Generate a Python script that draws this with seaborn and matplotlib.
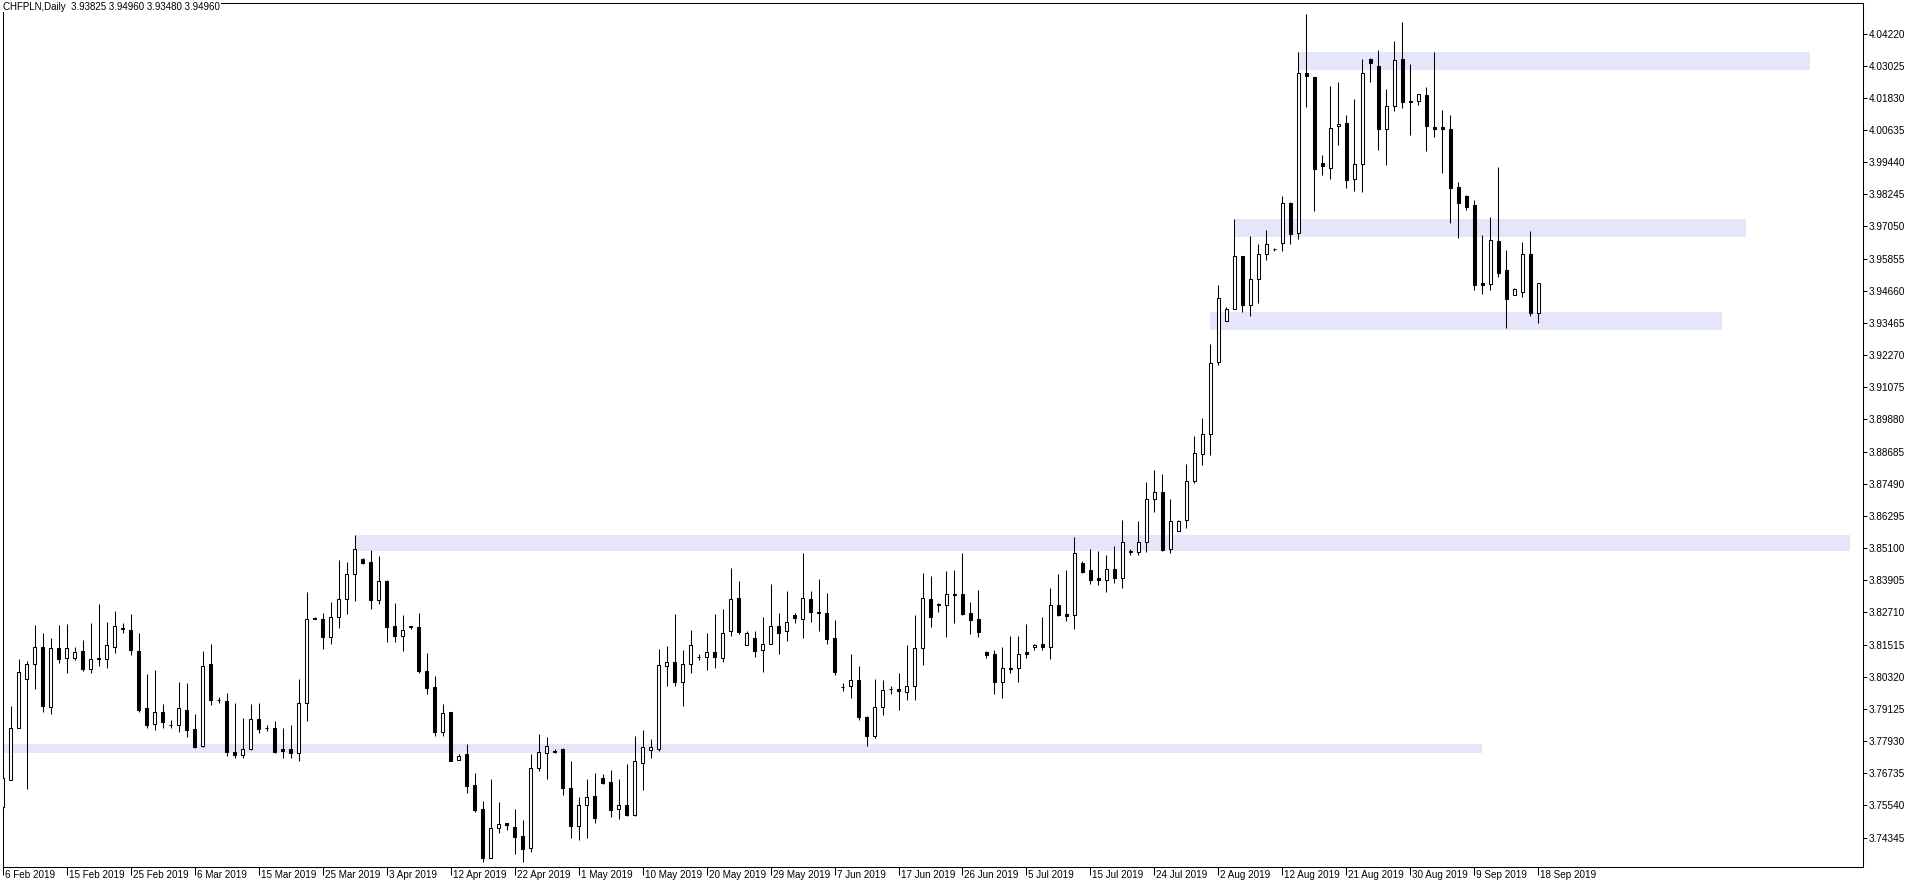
import numpy as np
import pandas as pd
import matplotlib
matplotlib.use("Agg")
import matplotlib.pyplot as plt
import matplotlib.transforms as mtransforms
from matplotlib import font_manager as fm
import seaborn as sns

# ---------------- data ----------------
symbol_title = "CHFPLN,Daily  3.93825 3.94960 3.93480 3.94960"
first_date = "2019-02-06"
last_date = "2019-09-18"

opens = [3.7546, 3.7650, 3.7843, 3.8025, 3.8081, 3.8144, 3.7920, 3.8137, 3.8102, 3.8102,
         3.8127, 3.8061, 3.8099, 3.8098, 3.8144, 3.8212, 3.8204, 3.8127, 3.7914, 3.7857,
         3.7899, 3.7853, 3.7853, 3.7910, 3.7836, 3.7775, 3.8078, 3.7946, 3.7940, 3.7754,
         3.7742, 3.7762, 3.7873, 3.7843, 3.7843, 3.7762, 3.7762, 3.7747, 3.7933, 3.8251,
         3.8248, 3.8180, 3.8252, 3.8319, 3.8412, 3.8471, 3.8458, 3.8318, 3.8386, 3.8219,
         3.8184, 3.8215, 3.8215, 3.8055, 3.7992, 3.7827, 3.7899, 3.7724, 3.7743, 3.7628,
         3.7540, 3.7359, 3.7468, 3.7487, 3.7473, 3.7439, 3.7394, 3.7691, 3.7747, 3.7755,
         3.7765, 3.7618, 3.7478, 3.7557, 3.7588, 3.7655, 3.7640, 3.7539, 3.7557, 3.7517,
         3.7713, 3.7758, 3.7762, 3.8070, 3.8085, 3.8013, 3.8081, 3.8105, 3.8107, 3.8122,
         3.8103, 3.8200, 3.8323, 3.8148, 3.8174, 3.8130, 3.8155, 3.8222, 3.8200, 3.8260,
         3.8245, 3.8319, 3.8272, 3.8267, 3.8174, 3.7993, 3.7996, 3.8018, 3.7884, 3.7812,
         3.7918, 3.7986, 3.7988, 3.7977, 3.7999, 3.8137, 3.8319, 3.8299, 3.8297, 3.8341,
         3.8338, 3.8267, 3.8245, 3.8122, 3.8115, 3.8014, 3.8066, 3.8063, 3.8122, 3.8141,
         3.8152, 3.8141, 3.8300, 3.8264, 3.8260, 3.8453, 3.8427, 3.8398, 3.8390, 3.8431,
         3.8397, 3.8496, 3.8494, 3.8531, 3.8694, 3.8717, 3.8505, 3.8575, 3.8616, 3.8761,
         3.8858, 3.8932, 3.9200, 3.9352, 3.9400, 3.9597, 3.9415, 3.9508, 3.9601, 3.9622,
         3.9642, 3.9794, 3.9679, 4.0274, 4.0260, 3.9940, 3.9924, 4.0077, 4.0088, 3.9883,
         3.9936, 4.0329, 4.0300, 4.0066, 4.0151, 4.0326, 4.0166, 4.0173, 4.0192, 4.0073,
         4.0073, 4.0066, 3.9850, 3.9820, 3.9783, 3.9494, 3.9492, 3.9652, 3.9543, 3.9449,
         3.9462, 3.9601, 3.93825]

highs = [3.7685, 3.7923, 3.8096, 3.8091, 3.8224, 3.8195, 3.8174, 3.8224, 3.8227, 3.8144,
         3.8168, 3.8232, 3.8303, 3.8235, 3.8276, 3.8230, 3.8264, 3.8194, 3.8041, 3.8057,
         3.7930, 3.7871, 3.8012, 3.8008, 3.7892, 3.8127, 3.8153, 3.7955, 3.7970, 3.7933,
         3.7877, 3.7929, 3.7936, 3.7852, 3.7866, 3.7843, 3.7851, 3.8023, 3.8345, 3.8253,
         3.8267, 3.8309, 3.8465, 3.8458, 3.8558, 3.8472, 3.8502, 3.8480, 3.8393, 3.8305,
         3.8260, 3.8222, 3.8268, 3.8119, 3.8034, 3.7930, 3.7900, 3.7743, 3.7781, 3.7674,
         3.7570, 3.7651, 3.7566, 3.7487, 3.7540, 3.7499, 3.7744, 3.7819, 3.7807, 3.7762,
         3.7768, 3.7718, 3.7584, 3.7651, 3.7674, 3.7670, 3.7685, 3.7651, 3.7707, 3.7811,
         3.7833, 3.7800, 3.8134, 3.8145, 3.8264, 3.8130, 3.8205, 3.8115, 3.8194, 3.8264,
         3.8283, 3.8435, 3.8387, 3.8202, 3.8201, 3.8252, 3.8376, 3.8268, 3.8350, 3.8267,
         3.8490, 3.8350, 3.8395, 3.8342, 3.8242, 3.8007, 3.8115, 3.8070, 3.7885, 3.8023,
         3.8019, 3.7997, 3.8044, 3.8148, 3.8262, 3.8419, 3.8408, 3.8304, 3.8423, 3.8427,
         3.8490, 3.8308, 3.8356, 3.8127, 3.8133, 3.8142, 3.8185, 3.8183, 3.8227, 3.8155,
         3.8252, 3.8361, 3.8413, 3.8428, 3.8551, 3.8461, 3.8508, 3.8500, 3.8483, 3.8517,
         3.8613, 3.8505, 3.8610, 3.8754, 3.8800, 3.8784, 3.8692, 3.8616, 3.8821, 3.8925,
         3.8992, 3.9267, 3.9486, 3.9404, 3.9731, 3.9597, 3.9669, 3.9638, 3.9690, 3.9624,
         3.9818, 3.9795, 4.0352, 4.0494, 4.0261, 3.9970, 4.0226, 4.0241, 4.0118, 4.0177,
         4.0326, 4.0330, 4.0359, 4.0214, 4.0393, 4.0463, 4.0308, 4.0199, 4.0225, 4.0352,
         4.0136, 4.0118, 3.9870, 3.9821, 3.9802, 3.9672, 3.9739, 3.9927, 3.9618, 3.9478,
         3.9649, 3.9689, 3.94960]

lows = [3.7529, 3.7648, 3.7840, 3.7615, 3.7987, 3.7901, 3.7894, 3.8083, 3.8046, 3.8095,
        3.8054, 3.8046, 3.8072, 3.8065, 3.8121, 3.8193, 3.8113, 3.7901, 3.7842, 3.7834,
        3.7842, 3.7842, 3.7827, 3.7808, 3.7768, 3.7771, 3.7927, 3.7935, 3.7738, 3.7730,
        3.7730, 3.7759, 3.7823, 3.7832, 3.7749, 3.7730, 3.7730, 3.7719, 3.7868, 3.8245,
        3.8135, 3.8154, 3.8213, 3.8266, 3.8314, 3.8449, 3.8284, 3.8303, 3.8162, 3.8162,
        3.8128, 3.8210, 3.8046, 3.7968, 3.7812, 3.7812, 3.7719, 3.7722, 3.7600, 3.7530,
        3.7344, 3.7357, 3.7450, 3.7464, 3.7375, 3.7344, 3.7381, 3.7682, 3.7651, 3.7747,
        3.7592, 3.7433, 3.7425, 3.7433, 3.7488, 3.7634, 3.7510, 3.7503, 3.7514, 3.7514,
        3.7610, 3.7730, 3.7755, 3.7998, 3.7998, 3.7924, 3.8046, 3.8095, 3.8057, 3.8065,
        3.8087, 3.8183, 3.8190, 3.8148, 3.8106, 3.8050, 3.8152, 3.8117, 3.8165, 3.8230,
        3.8176, 3.8234, 3.8200, 3.8152, 3.8039, 3.7979, 3.7951, 3.7871, 3.7775, 3.7805,
        3.7890, 3.7966, 3.7910, 3.7944, 3.7947, 3.8074, 3.8215, 3.8273, 3.8181, 3.8230,
        3.8260, 3.8189, 3.8178, 3.8103, 3.7966, 3.7951, 3.8044, 3.8011, 3.8103, 3.8133,
        3.8133, 3.8098, 3.8258, 3.8240, 3.8208, 3.8416, 3.8375, 3.8371, 3.8345, 3.8382,
        3.8360, 3.8483, 3.8483, 3.8494, 3.8645, 3.8500, 3.8490, 3.8575, 3.8583, 3.8750,
        3.8817, 3.8854, 3.9189, 3.9352, 3.9400, 3.9389, 3.9371, 3.9419, 3.9579, 3.9612,
        3.9614, 3.9640, 3.9658, 4.0150, 3.9763, 3.9897, 3.9882, 4.0008, 3.9849, 3.9837,
        3.9834, 4.0242, 3.9990, 3.9934, 4.0135, 4.0146, 4.0046, 4.0158, 3.9986, 4.0038,
        3.9904, 3.9719, 3.9663, 3.9765, 3.9470, 3.9455, 3.9470, 3.9516, 3.9328, 3.9449,
        3.9444, 3.9374, 3.93480]

closes = [3.7654, 3.7843, 3.8048, 3.8081, 3.8144, 3.7924, 3.8137, 3.8098, 3.8137, 3.8122,
          3.8061, 3.8097, 3.8101, 3.8148, 3.8219, 3.8211, 3.8130, 3.7909, 3.7853, 3.7899,
          3.7864, 3.7852, 3.7914, 3.7834, 3.7771, 3.8070, 3.7946, 3.7944, 3.7753, 3.7742,
          3.7762, 3.7873, 3.7836, 3.7841, 3.7753, 3.7756, 3.7747, 3.7933, 3.8248, 3.8248,
          3.8180, 3.8252, 3.8319, 3.8412, 3.8508, 3.8455, 3.8318, 3.8386, 3.8217, 3.8184,
          3.8204, 3.8222, 3.8053, 3.7991, 3.7827, 3.7897, 3.7719, 3.7739, 3.7626, 3.7536,
          3.7359, 3.7468, 3.7484, 3.7481, 3.7437, 3.7390, 3.7691, 3.7751, 3.7774, 3.7753,
          3.7619, 3.7478, 3.7557, 3.7584, 3.7507, 3.7636, 3.7536, 3.7557, 3.7517, 3.7718,
          3.7769, 3.7769, 3.8074, 3.8085, 3.8013, 3.8081, 3.8148, 3.8107, 3.8122, 3.8107,
          3.8193, 3.8319, 3.8199, 3.8193, 3.8128, 3.8155, 3.8222, 3.8195, 3.8237, 3.8251,
          3.8323, 3.8271, 3.8267, 3.8173, 3.8050, 3.7995, 3.8018, 3.7883, 3.7812, 3.7918,
          3.7982, 3.7988, 3.7979, 3.7999, 3.8137, 3.8326, 3.8252, 3.8301, 3.8341, 3.8334,
          3.8266, 3.8243, 3.8199, 3.8111, 3.8014, 3.8063, 3.8061, 3.8118, 3.8117, 3.8149,
          3.8141, 3.8300, 3.8262, 3.8256, 3.8490, 3.8422, 3.8393, 3.8390, 3.8431, 3.8397,
          3.8531, 3.8498, 3.8534, 3.8694, 3.8717, 3.8502, 3.8609, 3.8609, 3.8758, 3.8862,
          3.8932, 3.9196, 3.9438, 3.9400, 3.9597, 3.9412, 3.9508, 3.9601, 3.9638, 3.9623,
          3.9794, 3.9677, 4.0274, 4.0265, 3.9918, 3.9928, 4.0069, 4.0084, 3.9878, 3.9936,
          4.0277, 4.0311, 4.0066, 4.0151, 4.0322, 4.0166, 4.0173, 4.0199, 4.0079, 4.0066,
          4.0068, 3.9849, 3.9791, 3.9779, 3.9488, 3.9488, 3.9653, 3.9533, 3.9434, 3.9471,
          3.9601, 3.9382, 3.94960]

# horizontal zones (rectangles): time span and price span
zone_starts = ["2019-01-28", "2019-03-29", "2019-08-01", "2019-08-05", "2019-08-14"]
zone_ends = ["2019-09-10", "2019-11-03", "2019-10-15", "2019-10-18", "2019-10-28"]
zone_lows = [3.7749, 3.8500, 3.9321, 3.9666, 4.0287]
zone_highs = [3.7781, 3.8558, 3.9386, 3.9732, 4.0353]

price_ticks = [3.74345, 3.75540, 3.76735, 3.77930, 3.79125, 3.80320, 3.81515, 3.82710,
               3.83905, 3.85100, 3.86295, 3.87490, 3.88685, 3.89880, 3.91075, 3.92270,
               3.93465, 3.94660, 3.95855, 3.97050, 3.98245, 3.99440, 4.00635, 4.01830,
               4.03025, 4.04220]

# ---------------- helpers ----------------
# MT4 daily bars for this broker include Sundays, no Saturdays
calendar = pd.date_range("2018-12-01", "2020-03-01")
calendar = calendar[calendar.dayofweek != 5]
origin = int(np.searchsorted(calendar, pd.Timestamp(first_date)))


def bar_index(d):
    return int(np.searchsorted(calendar, pd.Timestamp(d))) - origin


dates = calendar[(calendar >= pd.Timestamp(first_date)) & (calendar <= pd.Timestamp(last_date))]
df = pd.DataFrame({"date": dates, "open": opens, "high": highs, "low": lows, "close": closes})
df["x"] = [bar_index(d) for d in df["date"]]
df["bull"] = df["close"] >= df["open"]

# ---------------- fonts ----------------
def pick(names):
    for n in names:
        try:
            fm.findfont(fm.FontProperties(family=n), fallback_to_default=False)
            return n
        except Exception:
            pass
    return "DejaVu Sans"

narrow = pick(["Liberation Sans Narrow", "Liberation Sans", "DejaVu Sans"])
regular = pick(["Liberation Sans", "DejaVu Sans"])
axis_size = 8.0 if narrow == "Liberation Sans Narrow" else 7.1

sns.set_style("white")
plt.rcParams["font.family"] = [narrow, "DejaVu Sans"]

W, H, DPI = 1916, 888, 100
fig = plt.figure(figsize=(W / DPI, H / DPI), dpi=DPI)
left_px, right_px, top_px, bottom_px = 2.7, 1863.0, 2.7, 867.0
ax = fig.add_axes([left_px / W, (H - bottom_px) / H,
                   (right_px - left_px) / W, (bottom_px - top_px) / H])
ax.set_facecolor("white")

# zones
for s, e, lo, hi in zip(zone_starts, zone_ends, zone_lows, zone_highs):
    ax.fill_between([bar_index(s), bar_index(e)], [lo, lo], [hi, hi],
                    color="#E6E6FA", linewidth=0, zorder=0)

# wicks
ax.vlines(df["x"], df["low"], df["high"], color="black", linewidth=0.75, zorder=2, snap=True)

# bodies
body_h = (df["close"] - df["open"]).to_numpy()
body_h = np.where(np.abs(body_h) < 2e-5, np.where(body_h >= 0, 2e-5, -2e-5), body_h)
ax.bar(df["x"], body_h, bottom=df["open"], width=0.42,
       color=np.where(df["bull"], "white", "black"), edgecolor="black",
       linewidth=0.75, zorder=3)

# limits (scale taken from the price axis)
px_per_price = 32.16 / 0.01195
ax.set_ylim(3.74345 - (bottom_px - 837.5) / px_per_price,
            4.04220 + (33.5 - top_px) / px_per_price)
ax.set_xlim((left_px - 2.3) / 8.0, (right_px - 2.3) / 8.0)

# y axis on the right
ax.yaxis.tick_right()
ax.set_yticks(price_ticks)
ax.set_yticklabels([f"{v:.5f}" for v in price_ticks])
ax.tick_params(axis="y", which="both", right=True, left=False, direction="out",
               length=3.0, width=0.72, pad=1.2, labelsize=axis_size + 0.1, colors="black")

# x axis: every 8th bar
xt = df["x"].to_numpy()[::8]
xl = [f"{d.day} {d.strftime('%b %Y')}" for d in df["date"].iloc[::8]]
ax.set_xticks(xt)
ax.set_xticklabels(xl)
ax.tick_params(axis="x", which="both", bottom=True, direction="out",
               length=6.0, width=0.72, pad=-3.6, labelsize=axis_size, colors="black")
offset = mtransforms.ScaledTranslation(2.0 / DPI, 0, fig.dpi_scale_trans)
for lab in ax.get_xticklabels():
    lab.set_horizontalalignment("left")
    lab.set_transform(lab.get_transform() + offset)

for sp in ax.spines.values():
    sp.set_visible(True)
    sp.set_color("black")
    sp.set_linewidth(0.75)

ax.grid(False)
ax.set_xlabel("")
ax.set_ylabel("")

# symbol caption
fig.text(3 / W, 1 - 1.5 / H, symbol_title, ha="left", va="top", fontsize=7,
         family=[regular, "DejaVu Sans"], color="black",
         bbox=dict(facecolor="white", edgecolor="none", pad=0.6))

fig.savefig("out.png", dpi=DPI, facecolor="white")
